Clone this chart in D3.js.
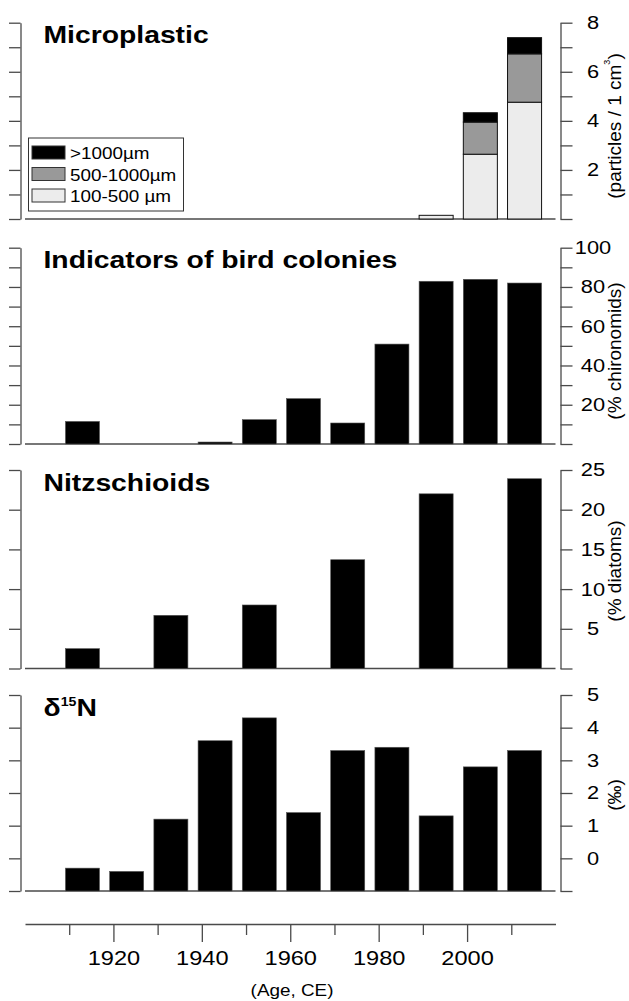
<!DOCTYPE html>
<html lang="en">
<head>
    <meta charset="UTF-8">
    <title>Bird colonies and microplastic</title>
    <script src="https://d3js.org/d3.v7.min.js"></script>
    <style>
        body {margin: 0; background: #fff}
        text {font-family: 'Liberation Sans', Arial, sans-serif; fill: #000}
    </style>
</head>
<body>
<script>
    const width  = 629;
    const height = 1001;
    const sx = 1.18;   // lettering in the figure is a bit wider than plain Arial

    // sample ages (bar centres)
    const years = [1913, 1923, 1933, 1943, 1953, 1963, 1973, 1983, 1993, 2003, 2013];

    // microplastic, stacked by size class
    const plasticYears = [1993, 2003, 2013];
    const plasticSmall = [0.15, 2.64, 4.76];
    const plasticMid   = [0, 1.31, 1.97];
    const plasticLarge = [0, 0.38, 0.66];
    const plasticLegend = [">1000µm", "500-1000µm", "100-500 µm"];

    const birdValues = [11.5, 0, 0, 1.0, 12.4, 23.1, 10.7, 50.9, 82.9, 83.9, 82.0];

    const nitzYears  = [1913, 1933, 1953, 1973, 1993, 2013];
    const nitzValues = [2.5, 6.7, 8.0, 13.7, 22.0, 23.9];

    const d15nValues = [-0.3, -0.4, 1.2, 3.6, 4.3, 1.4, 3.3, 3.4, 1.3, 2.8, 3.3];

    // ticks
    const plasticTicks = [0, 1, 2, 3, 4, 5, 6, 7, 8];
    const plasticLabels = [2, 4, 6, 8];
    const birdTicks = [0, 10, 20, 30, 40, 50, 60, 70, 80, 90, 100];
    const birdLabels = [20, 40, 60, 80, 100];
    const nitzTicks = [0, 5, 10, 15, 20, 25];
    const nitzLabels = [5, 10, 15, 20, 25];
    const d15nTicks = [-1, 0, 1, 2, 3, 4, 5];
    const d15nLabels = [0, 1, 2, 3, 4, 5];
    const yearTicks = [1910, 1920, 1930, 1940, 1950, 1960, 1970, 1980, 1990, 2000, 2010];
    const yearLabels = [1920, 1940, 1960, 1980, 2000];

    const axisColor = "#4a4a4a";
    const barWidth = 7.7;   // years

    const svg = d3.select("body").append("svg")
        .attr("width", width)
        .attr("height", height);

    const x = d3.scaleLinear().domain([1900, 2020]).range([25, 555.5]);

    const panels = [
        {top: 22.7,  bottom: 219,   domain: [0, 8],   ticks: plasticTicks, labels: plasticLabels,
         title: "Microplastic", unit: "(particles / 1 cm", unitSup: "3", unitY: 126},
        {top: 247.7, bottom: 444,   domain: [0, 100], ticks: birdTicks, labels: birdLabels,
         title: "Indicators of bird colonies", unit: "(% chironomids)", unitY: 351,
         bars: years.map((d, i) => ({year: d, value: birdValues[i]}))},
        {top: 470,   bottom: 668.5, domain: [0, 25],  ticks: nitzTicks, labels: nitzLabels,
         title: "Nitzschioids", unit: "(% diatoms)", unitY: 571,
         bars: nitzYears.map((d, i) => ({year: d, value: nitzValues[i]}))},
        {top: 695,   bottom: 891,   domain: [-1, 5],  ticks: d15nTicks, labels: d15nLabels,
         title: "δ", titleSup: "15", titleEnd: "N", unit: "(‰)", unitY: 795,
         bars: years.map((d, i) => ({year: d, value: d15nValues[i]}))}
    ];

    panels.forEach(p => {
        const y = d3.scaleLinear().domain(p.domain).range([p.bottom, p.top]);
        p.y = y;
        const g = svg.append("g");

        // left axis, no labels
        g.append("g")
            .attr("transform", "translate(20.5,0)")
            .call(d3.axisLeft(y).tickValues(p.ticks).tickSize(11.5).tickSizeOuter(0).tickFormat(""));

        // right axis
        const ra = g.append("g")
            .attr("transform", "translate(560.5,0)")
            .call(d3.axisRight(y).tickValues(p.ticks).tickSize(12).tickSizeOuter(0)
                .tickFormat(d => p.labels.includes(d) ? d : ""));
        ra.selectAll("text")
            .attr("x", 32.5 / sx)
            .attr("text-anchor", "middle")
            .attr("transform", `scale(${sx},1)`)
            .style("font-size", "18.5px");

        g.selectAll(".domain, .tick line")
            .attr("stroke", axisColor)
            .attr("stroke-width", 1.3);

        // baseline
        g.append("line")
            .attr("x1", x.range()[0]).attr("x2", x.range()[1])
            .attr("y1", p.bottom).attr("y2", p.bottom)
            .attr("stroke", axisColor)
            .attr("stroke-width", 1.3);

        if (p.bars) {
            g.selectAll("rect.bar")
                .data(p.bars.filter(d => d.value !== 0))
                .join("rect")
                .attr("class", "bar")
                .attr("x", d => x(d.year - barWidth / 2))
                .attr("width", d => x(d.year + barWidth / 2) - x(d.year - barWidth / 2))
                .attr("y", d => y(d.value))
                .attr("height", d => p.bottom - y(d.value))
                .attr("fill", "#000")
                .attr("stroke", "#555")
                .attr("stroke-width", 0.6);
        }

        // panel title
        const t = g.append("text")
            .attr("transform", `translate(43.5,${p.top + 20.5}) scale(${sx},1)`)
            .style("font-size", "24px")
            .style("font-weight", "bold")
            .text(p.title);
        if (p.titleSup) {
            t.append("tspan").attr("dy", -10).style("font-size", "12px").text(p.titleSup);
            t.append("tspan").attr("dy", 10).text(p.titleEnd);
        }

        // unit label on the right
        const u = g.append("text")
            .attr("transform", `translate(614,${p.unitY}) rotate(-90)`)
            .attr("text-anchor", "middle")
            .attr("dominant-baseline", "central")
            .style("font-size", "19px")
            .text(p.unit);
        if (p.unitSup) {
            u.append("tspan").attr("dy", -7).style("font-size", "9px").text(p.unitSup);
            u.append("tspan").attr("dy", 7).text(")");
        }
    });

    // microplastic stacks
    const mp = panels[0];
    const stackData = plasticYears.map((d, i) => ({
        year: d, small: plasticSmall[i], mid: plasticMid[i], large: plasticLarge[i]
    }));
    const stack = d3.stack().keys(["small", "mid", "large"])(stackData);
    const stackColors = {small: "#ececec", mid: "#999999", large: "#000000"};

    svg.append("g").selectAll("g")
        .data(stack)
        .join("g")
        .attr("fill", d => stackColors[d.key])
        .selectAll("rect")
        .data(d => d.filter(s => s[1] - s[0] > 0))
        .join("rect")
        .attr("x", d => x(d.data.year - barWidth / 2))
        .attr("width", d => x(d.data.year + barWidth / 2) - x(d.data.year - barWidth / 2))
        .attr("y", d => mp.y(d[1]))
        .attr("height", d => mp.y(d[0]) - mp.y(d[1]))
        .attr("stroke", "#111")
        .attr("stroke-width", 1);

    // legend
    const lg = svg.append("g");
    lg.append("rect")
        .attr("x", 28.5).attr("y", 138)
        .attr("width", 155).attr("height", 73)
        .attr("fill", "#fff")
        .attr("stroke", "#333")
        .attr("stroke-width", 1);
    const legendFill = ["#000000", "#999999", "#ececec"];
    plasticLegend.forEach((label, i) => {
        const ly = 146 + i * 21.5;
        lg.append("rect")
            .attr("x", 32).attr("y", ly)
            .attr("width", 33).attr("height", 13)
            .attr("fill", legendFill[i])
            .attr("stroke", "#333")
            .attr("stroke-width", 1);
        lg.append("text")
            .attr("transform", `translate(70,${ly + 13}) scale(${sx},1)`)
            .style("font-size", "16px")
            .text(label);
    });

    // age axis
    const xa = svg.append("g")
        .attr("transform", "translate(0,924)")
        .call(d3.axisBottom(x).tickValues(yearTicks).tickSize(18).tickSizeOuter(0)
            .tickFormat(d => yearLabels.includes(d) ? d : ""));
    xa.selectAll(".tick line")
        .attr("y2", d => yearLabels.includes(d) ? 18 : 11);
    xa.selectAll(".domain, .tick line")
        .attr("stroke", axisColor)
        .attr("stroke-width", 1.3);
    xa.selectAll("text")
        .attr("y", 27)
        .attr("transform", `scale(${sx},1)`)
        .style("font-size", "20px");

    svg.append("text")
        .attr("transform", `translate(292,996) scale(${sx},1)`)
        .attr("text-anchor", "middle")
        .style("font-size", "16px")
        .text("(Age, CE)");
</script>
</body>
</html>
